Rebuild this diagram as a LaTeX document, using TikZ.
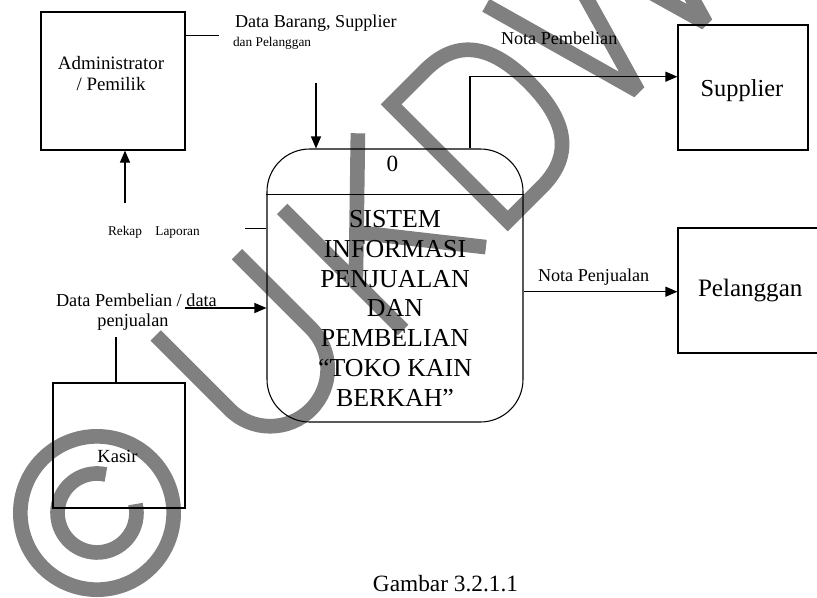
\documentclass[tikz,border=0pt]{standalone}
\usepackage{fontspec}
\setmainfont{Liberation Serif}
\usetikzlibrary{arrows.meta}
\definecolor{wmgray}{RGB}{128,128,128}
\begin{document}
\begin{tikzpicture}[x=0.75pt,y=-0.75pt,
  box/.style={draw=black, line width=0.9pt, inner sep=0pt},
  proc/.style={draw=black, line width=0.8pt, inner sep=0pt, rounded corners=32pt},
  conn/.style={draw=black, line width=0.9pt},
  arr/.style={draw=black, line width=0.9pt, -{Triangle[length=9pt,width=7.5pt]}},
  lbl/.style={inner sep=0pt, outer sep=0pt, text=black},
  wm/.style={draw=wmgray, line width=11pt}
]
\useasboundingbox (0,0) rectangle (817,597);
\fill[white] (0,0) rectangle (817,597);
\clip (0,0) rectangle (817,597);

% ---------- watermark ----------
\coordinate (wmO) at (97,513);
\begin{scope}[shift={(wmO)}, rotate=45, x=0.75pt, y=0.75pt]
  \draw[wm] (0,0) circle[radius=57.5pt];
  \draw[wm] (32:39.5) arc[start angle=32, end angle=328, radius=29.6pt];
  % U
  \draw[wm] (167,84) -- (167,-20.5) arc[start angle=180, end angle=360, radius=43.1pt] -- (282,84);
  % K
  \draw[wm] (346,-87) -- (346,84);
  \draw[wm] (346,-20) -- (453,84);
  \draw[wm] (382,15) -- (463,-87);
  % D
  \draw[wm, line join=miter] (497,-84) -- (497,81) -- (545,81) .. controls (592,81) and (610,50) .. (610,-1) .. controls (610,-52) and (592,-84) .. (545,-84) -- cycle;
  % W
  \draw[wm, line join=bevel] (634,84) -- (681,-84) -- (729,84) -- (777,-84) -- (825,84);
\end{scope}

% ---------- boxes ----------
\node[box, minimum width=108pt, minimum height=103.5pt] (admin) at (113,81) {};
\node[box, minimum width=97.5pt, minimum height=93.75pt] (supplier) at (743,87.5) {};
\node[box, minimum width=114pt, minimum height=93.75pt] (pelanggan) at (754,290.5) {};
\node[box, minimum width=99pt, minimum height=93.75pt] (kasir) at (119,445.5) {};
\node[proc, minimum width=192pt, minimum height=204.75pt] (proc) at (395,285.5) {};
\coordinate (cdiv) at (395,194.3);
\draw[conn, line width=0.8pt] (cdiv -| proc.west) -- (cdiv -| proc.east);

% ---------- box texts ----------
\node[lbl, anchor=base, font={\fontsize{14.2pt}{17pt}\selectfont}] (tadm1) at (111,69) {Administrator};
\node[lbl, anchor=base, font={\fontsize{14.2pt}{17pt}\selectfont}] (tadm2) at (111,90.7) {/ Pemilik};
\node[lbl, anchor=base, font={\fontsize{18.3pt}{22pt}\selectfont}] (tsup) at (742,96) {Supplier};
\node[lbl, anchor=base west, font={\fontsize{18.8pt}{22pt}\selectfont}] (tpel) at (698,296) {Pelanggan};
\node[lbl, anchor=base, font={\fontsize{13.9pt}{16pt}\selectfont}] (tkas) at (117.5,462) {Kasir};
\node[lbl, anchor=base, font={\fontsize{17.4pt}{20pt}\selectfont}] (tzero) at (392.3,171.5) {0};
\node[lbl, anchor=north, align=center, font={\fontsize{19.4pt}{22.3pt}\selectfont}] (tproc) at (395,210.5)
  {SISTEM\\INFORMASI\\PENJUALAN\\DAN\\PEMBELIAN\\“TOKO KAIN\\BERKAH”};

% ---------- flow labels ----------
\node[lbl, anchor=base west, font={\fontsize{13.6pt}{16pt}\selectfont}] (tdbs) at (235,27.3) {Data Barang, Supplier};
\node[lbl, anchor=base west, font={\fontsize{10pt}{12pt}\selectfont}] (tdp) at (233,46.7) {dan Pelanggan};
\node[lbl, anchor=base west, font={\fontsize{13.6pt}{16pt}\selectfont}] (tnpb) at (501,44) {Nota Pembelian};
\node[lbl, anchor=base west, font={\fontsize{10pt}{12pt}\selectfont}] (trek) at (108,235) {Rekap\hspace{10pt}Laporan};
\node[lbl, anchor=base west, font={\fontsize{13.7pt}{16pt}\selectfont}] (tdpb) at (56,306) {Data Pembelian / data};
\node[lbl, anchor=base, font={\fontsize{13.7pt}{16pt}\selectfont}] (tdpj) at (133,326) {penjualan};
\node[lbl, anchor=base west, font={\fontsize{13.6pt}{16pt}\selectfont}] (tnpj) at (538,281.7) {Nota Penjualan};
\node[lbl, anchor=base, font={\fontsize{17.5pt}{20pt}\selectfont}] (tgam) at (445.5,591) {Gambar 3.2.1.1};

% ---------- connectors ----------
\coordinate (c1) at (219,35.7);
\draw[conn] (c1 -| admin.east) -- (c1);
\coordinate (c2) at (316,83);
\draw[arr] (c2) -- (c2 |- proc.north);
\coordinate (c3) at (125,203);
\draw[arr] (c3) -- (c3 |- admin.south);
\coordinate (c4) at (245,228.3);
\draw[conn] (c4) -- (c4 -| proc.west);
\coordinate (c5) at (185,308);
\draw[arr] (c5) -- (c5 -| proc.west);
\coordinate (c6) at (116,337);
\draw[conn] (c6) -- (c6 |- kasir.north);
\coordinate (c7) at (470,76.7);
\draw[arr] (c7 |- proc.north) -- (c7) -- (c7 -| supplier.west);
\coordinate (c8) at (600,291.7);
\draw[arr] (c8 -| proc.east) -- (c8 -| pelanggan.west);
\end{tikzpicture}
\end{document}
